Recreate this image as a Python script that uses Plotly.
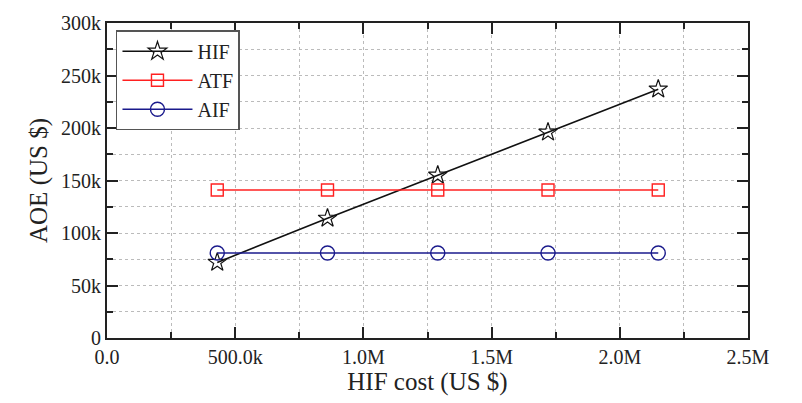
import plotly.graph_objects as go

hif_cost = [430e3, 860e3, 1290e3, 1720e3, 2150e3]
hif_aoe = [72e3, 114e3, 155e3, 196e3, 237e3]
atf_aoe = [141e3, 141e3, 141e3, 141e3, 141e3]
aif_aoe = [81e3, 81e3, 81e3, 81e3, 81e3]

x_tickvals = [0, 500e3, 1000e3, 1500e3, 2000e3, 2500e3]
x_ticktext = ["0.0", "500.0k", "1.0M", "1.5M", "2.0M", "2.5M"]
y_tickvals = [0, 50e3, 100e3, 150e3, 200e3, 250e3, 300e3]
y_ticktext = ["0", "50k", "100k", "150k", "200k", "250k", "300k"]

FONT = "Liberation Serif, Times New Roman, serif"

fig = go.Figure()
fig.add_trace(go.Scatter(x=hif_cost, y=hif_aoe, name="HIF", mode="lines+markers",
                         line=dict(color="#111111", width=1.6),
                         marker=dict(symbol="star-open", size=14, color="#111111",
                                     line=dict(width=1.2))))
fig.add_trace(go.Scatter(x=hif_cost, y=atf_aoe, name="ATF", mode="lines+markers",
                         line=dict(color="#ff2020", width=1.6),
                         marker=dict(symbol="square-open", size=12, color="#ff2020",
                                     line=dict(width=1.4))))
fig.add_trace(go.Scatter(x=hif_cost, y=aif_aoe, name="AIF", mode="lines+markers",
                         line=dict(color="#1a1a8c", width=1.6),
                         marker=dict(symbol="circle-open", size=14, color="#1a1a8c",
                                     line=dict(width=1.4))))

axis_common = dict(
    showline=True, linecolor="#222222", linewidth=2, mirror="ticks",
    ticks="inside", ticklen=11, tickwidth=2, tickcolor="#222222",
    showgrid=True, gridcolor="#bbbbbb", griddash="dot", gridwidth=1,
    zeroline=False,
    tickfont=dict(family=FONT, size=20, color="#222222"),
)

fig.update_xaxes(range=[0, 2.5e6], tickvals=x_tickvals, ticktext=x_ticktext,
                 minor=dict(tickvals=[250e3, 750e3, 1250e3, 1750e3, 2250e3], ticks="inside",
                            ticklen=6, tickwidth=2, tickcolor="#222222", showgrid=True,
                            gridcolor="#bbbbbb", griddash="dot"),
                 title=dict(text="HIF cost (US $)", font=dict(family=FONT, size=25, color="#222222"),
                            standoff=2),
                 **axis_common)
fig.update_yaxes(range=[0, 300e3], tickvals=y_tickvals, ticktext=y_ticktext,
                 minor=dict(tickvals=[25e3, 75e3, 125e3, 175e3, 225e3, 275e3], ticks="inside",
                            ticklen=6, tickwidth=2, tickcolor="#222222", showgrid=True,
                            gridcolor="#bbbbbb", griddash="dot"),
                 title=dict(text="AOE (US $)", font=dict(family=FONT, size=25, color="#222222"),
                            standoff=6),
                 **axis_common)

fig.update_layout(
    width=802, height=403,
    margin=dict(l=107, r=54, t=20, b=65),
    paper_bgcolor="white", plot_bgcolor="white",
    legend=dict(x=0.014, y=0.977, xanchor="left", yanchor="top",
                bgcolor="white", bordercolor="#555555", borderwidth=1.5,
                font=dict(family=FONT, size=20, color="#222222"),
                itemwidth=70, tracegroupgap=0),
    showlegend=True,
)

fig.write_html("out.html")
